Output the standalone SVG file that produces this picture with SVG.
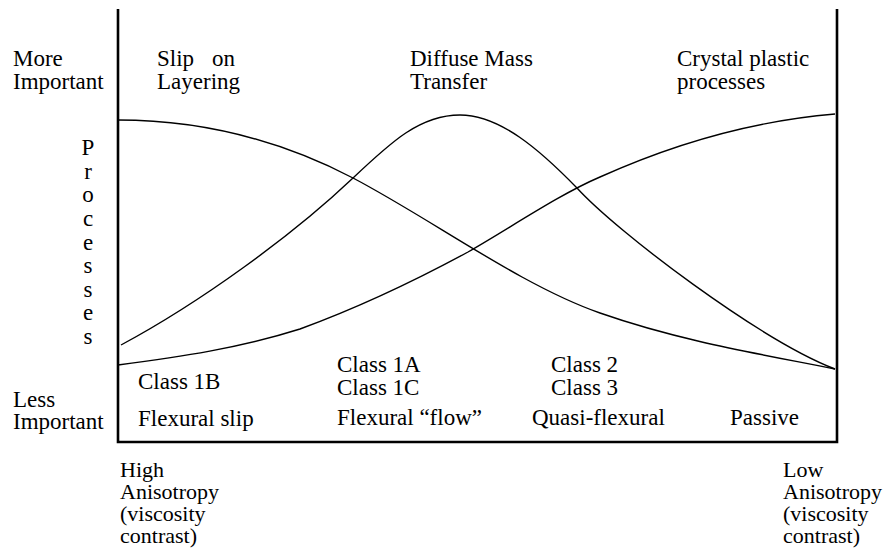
<svg xmlns="http://www.w3.org/2000/svg" width="893" height="555" viewBox="0 0 893 555">
<style>
text{font-family:"Liberation Serif","Times New Roman",serif;font-size:23px;fill:#000}
.sm{font-size:22px}
.ax{stroke:#000;stroke-width:2.6;fill:none}
.cv{stroke:#000;stroke-width:1.4;fill:none}
.mid{text-anchor:middle}
</style>
<rect width="893" height="555" fill="#fff"/>
<g id="axes">
<path class="ax" d="M118,9 V442 H837 V9"/>
</g>
<g id="curves">
<path id="slip-curve" class="cv" d="M118,120 C200,120 280,140 353,178 C433,220 520,285 600,313 C680,341 760,354 835,369"/>
<path id="diffuse-curve" class="cv" d="M121,345 C201,302 293,235 353,178 C391,142 420,115 460,115 C500,115 540,150 577,188 C617,232 760,340 835,369"/>
<path id="crystal-curve" class="cv" d="M118,365 C180,357 240,348 300,329 C360,307 420,278 468,252 C510,228 560,194 600,177 C660,150 740,122 835,114"/>
</g>
<g id="y-labels">
<text id="more-important" x="13" y="66">More<tspan x="13" y="89">Important</tspan></text>
<text id="less-important" x="13" y="407">Less<tspan x="13" y="429">Important</tspan></text>
<text id="processes" class="mid" x="88" y="155">P<tspan x="88" y="179">r</tspan><tspan x="88" y="202">o</tspan><tspan x="88" y="226">c</tspan><tspan x="88" y="250">e</tspan><tspan x="88" y="273">s</tspan><tspan x="88" y="297">s</tspan><tspan x="88" y="320">e</tspan><tspan x="88" y="344">s</tspan></text>
</g>
<g id="process-labels">
<text id="slip-label" x="157" y="66">Slip<tspan x="212">on</tspan><tspan x="157" y="89">Layering</tspan></text>
<text id="diffuse-label" x="410" y="66">Diffuse Mass<tspan x="410" y="89">Transfer</tspan></text>
<text id="crystal-label" x="677" y="66">Crystal plastic<tspan x="677" y="89">processes</tspan></text>
</g>
<g id="class-labels">
<text x="138" y="389">Class 1B</text>
<text x="138" y="426">Flexural slip</text>
<text x="337" y="372">Class 1A<tspan x="337" y="395">Class 1C</tspan></text>
<text x="337" y="425">Flexural “flow”</text>
<text x="551" y="372">Class 2<tspan x="551" y="395">Class 3</tspan></text>
<text x="532" y="425">Quasi-flexural</text>
<text x="730" y="425">Passive</text>
</g>
<g id="x-labels">
<text id="high" class="sm" x="120" y="477">High<tspan x="120" y="499">Anisotropy</tspan><tspan x="120" y="521">(viscosity</tspan><tspan x="120" y="543">contrast)</tspan></text>
<text id="low" class="sm" x="783" y="477">Low<tspan x="783" y="499">Anisotropy</tspan><tspan x="783" y="521">(viscosity</tspan><tspan x="783" y="543">contrast)</tspan></text>
</g>
</svg>
